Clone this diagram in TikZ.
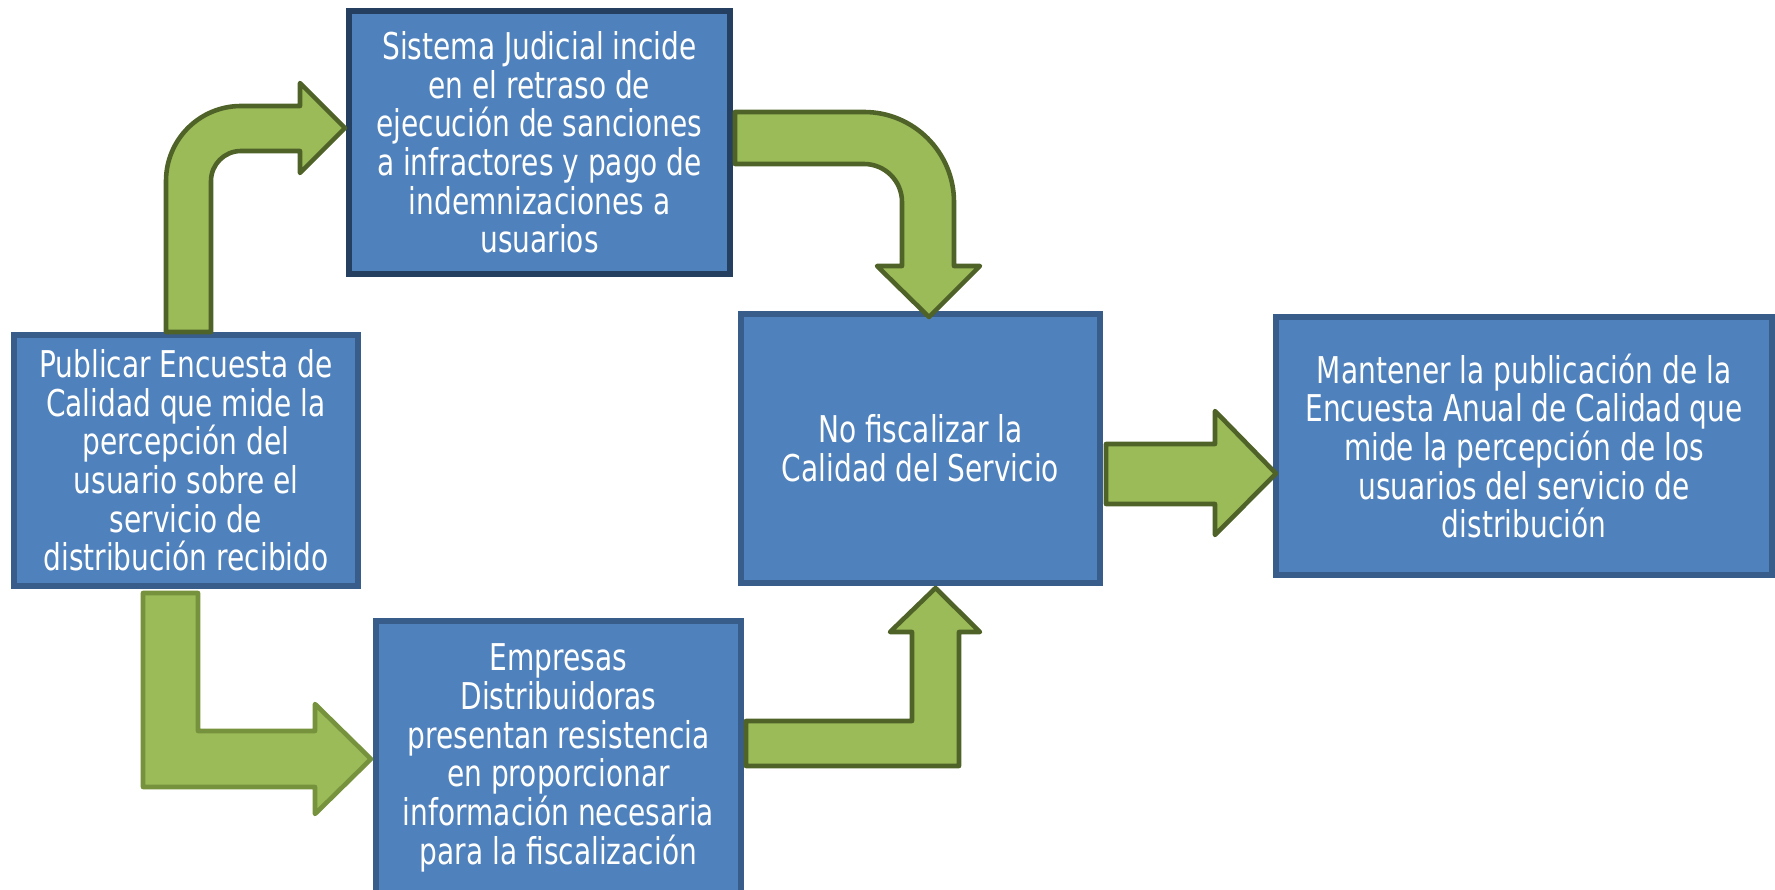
\documentclass[tikz,border=0pt]{standalone}
\usepackage{fontspec}
\setmainfont{DejaVu Sans}[FakeStretch=0.76]
\usepackage{tikz}
\usetikzlibrary{calc,positioning}
\definecolor{boxfill}{HTML}{4F81BD}
\definecolor{boxline}{HTML}{385D8A}
\definecolor{boxdark}{HTML}{243F60}
\definecolor{arrfill}{HTML}{9BBB59}
\definecolor{arrline}{HTML}{4F6228}
\definecolor{arrlight}{HTML}{76923C}
\begin{document}
\begin{tikzpicture}[box/.style={draw=boxline,line width=1.5pt,fill=boxfill,text=white,align=center,inner sep=0pt,font=\fontsize{10.5}{11}\selectfont},
blk/.style={draw=arrline,line width=1.3pt,fill=arrfill,line join=round}]
\useasboundingbox (0,0) rectangle (17.75,-8.9);
\node[box,minimum width=3.44cm,minimum height=2.51cm] (P) at (1.86,-4.605) {Publicar Encuesta de\\Calidad que mide la\\percepción del\\usuario sobre el\\servicio de\\distribución recibido};
\node[box,draw=boxdark,minimum width=3.81cm,minimum height=2.63cm] (J) at (5.395,-1.425) {Sistema Judicial incide\\en el retraso de\\ejecución de sanciones\\a infractores y pago de\\indemnizaciones a\\usuarios};
\node[box,minimum width=3.65cm,minimum height=2.74cm] (E) at (5.585,-7.58) {Empresas\\Distribuidoras\\presentan resistencia\\en proporcionar\\información necesaria\\para la fiscalización};
\node[box,minimum width=3.59cm,minimum height=2.69cm] (N) at (9.205,-4.485) {No fiscalizar la\\Calidad del Servicio};
\node[box,minimum width=4.96cm,minimum height=2.58cm] (M) at (15.24,-4.46) {Mantener la publicación de la\\Encuesta Anual de Calidad que\\mide la percepción de los\\usuarios del servicio de\\distribución};
\draw[blk] (1.66,-3.32) -- (1.66,-1.81) arc (180:90:0.75) -- (3.00,-1.06) -- (3.00,-0.83) -- (3.45,-1.28) -- (3.00,-1.73) -- (3.00,-1.51) -- (2.41,-1.51) arc (90:180:0.3) -- (2.11,-3.32) -- cycle;
\draw[blk] (7.35,-1.12) -- (8.64,-1.12) arc (90:0:0.9) -- (9.54,-2.66) -- (9.80,-2.66) -- (9.29,-3.17) -- (8.77,-2.66) -- (9.02,-2.66) -- (9.02,-2.02) arc (0:90:0.38) -- (7.35,-1.64) -- cycle;
\draw[blk,draw=arrlight] (1.43,-5.93) -- (1.98,-5.93) -- (1.98,-7.31) -- (3.15,-7.31) -- (3.15,-7.04) -- (3.71,-7.59) -- (3.15,-8.14) -- (3.15,-7.87) -- (1.43,-7.87) -- cycle;
\draw[blk] (7.46,-7.66) -- (9.59,-7.66) -- (9.59,-6.32) -- (9.80,-6.32) -- (9.355,-5.88) -- (8.90,-6.32) -- (9.12,-6.32) -- (9.12,-7.21) -- (7.46,-7.21) -- cycle;
\draw[blk] (11.06,-4.44) -- (12.15,-4.44) -- (12.15,-4.11) -- (12.76,-4.735) -- (12.15,-5.35) -- (12.15,-5.04) -- (11.06,-5.04) -- cycle;
\end{tikzpicture}
\end{document}
